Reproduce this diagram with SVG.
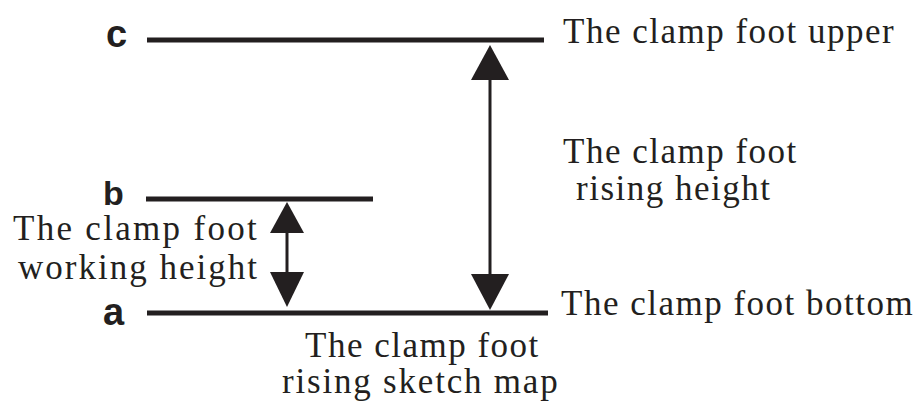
<svg xmlns="http://www.w3.org/2000/svg" width="919" height="403" viewBox="0 0 919 403">
<style>
.lvl{stroke:#231f20;stroke-width:5;fill:none}
.shaft{stroke:#231f20;stroke-width:3;fill:none}
.head{fill:#231f20}
.lbl{font-family:"Liberation Sans",Arial,sans-serif;font-weight:bold;fill:#231f20}
.t{font-family:"Liberation Serif","Times New Roman",serif;font-size:35px;fill:#231f20;letter-spacing:1.5px}
</style>
<rect width="919" height="403" fill="#fff"/>
<g id="level-c">
<line class="lvl" x1="147" y1="40" x2="544" y2="40"/>
<text class="lbl" x="106" y="47" font-size="38">c</text>
<text class="t" x="563" y="43">The clamp foot upper</text>
</g>
<g id="level-b">
<line class="lvl" x1="146" y1="199" x2="373" y2="199"/>
<text class="lbl" x="103" y="205" font-size="34">b</text>
</g>
<g id="level-a">
<line class="lvl" x1="147" y1="313" x2="548" y2="313"/>
<text class="lbl" x="103" y="325" font-size="38">a</text>
<text class="t" x="561" y="315">The clamp foot bottom</text>
</g>
<g id="rising-label">
<text class="t" x="563" y="163">The clamp foot</text>
<text class="t" x="576" y="200">rising height</text>
</g>
<g id="working-label">
<text class="t" x="13" y="240" style="letter-spacing:2.3px">The clamp foot</text>
<text class="t" x="18" y="279" style="letter-spacing:2px">working height</text>
</g>
<g id="caption">
<text class="t" x="305" y="357">The clamp foot</text>
<text class="t" x="282" y="393" style="letter-spacing:1.8px">rising sketch map</text>
</g>
<g id="connectors">
<line class="shaft" x1="490" y1="78" x2="490" y2="276"/>
<polygon class="head" points="490,45 471,80 509,80"/>
<polygon class="head" points="490,310 471,274 509,274"/>
<line class="shaft" x1="287" y1="231" x2="287" y2="274"/>
<polygon class="head" points="287,202 270,233 304,233"/>
<polygon class="head" points="287,307 270,272 304,272"/>
</g>
</svg>
